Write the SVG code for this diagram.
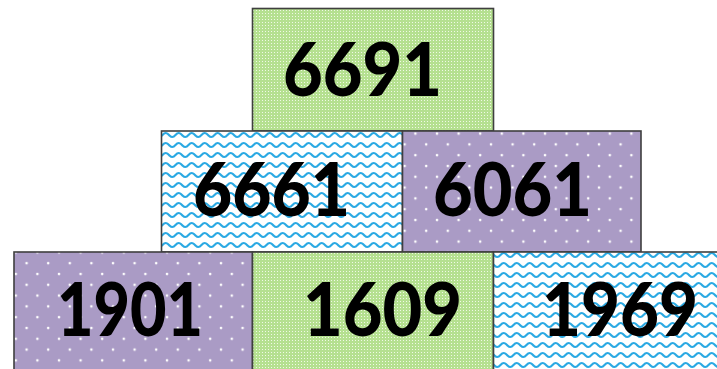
<svg xmlns="http://www.w3.org/2000/svg" width="717" height="369" viewBox="0 0 717 369">
<defs>
<pattern id="green" width="3" height="3" patternUnits="userSpaceOnUse">
<rect width="3" height="3" fill="#b5e090"/>
<rect x="1" y="1" width="1" height="1" fill="#f0f9e6"/>
</pattern>
<pattern id="wave" width="13" height="10" patternUnits="userSpaceOnUse">
<rect width="13" height="10" fill="#ffffff"/>
<path d="M-6.5,5 Q-3.25,1 0,5 T6.5,5 T13,5 T19.5,5" fill="none" stroke="#2aa9e3" stroke-width="2"/>
</pattern>
<pattern id="purple" width="21.6" height="21.6" patternUnits="userSpaceOnUse">
<rect width="21.6" height="21.6" fill="#aa9bc5"/>
<circle cx="5" cy="4" r="1.3" fill="#ffffff"/>
<circle cx="15.8" cy="14.8" r="1.3" fill="#ffffff"/>
</pattern>
</defs>
<style>
.box{stroke:#3f3f3f;stroke-width:1.6}
.num{font-family:Lato,"DejaVu Sans",sans-serif;font-weight:900;font-size:74px;fill:#000;text-anchor:middle}
</style>
<rect width="717" height="369" fill="#ffffff"/>
<g id="n6691">
<rect class="box" x="252.5" y="8.5" width="241" height="122.5" fill="url(#green)"/>
<text class="num" x="362.5" y="96" textLength="159" lengthAdjust="spacingAndGlyphs">6691</text>
</g>
<g id="n6661">
<rect class="box" x="161.5" y="131" width="241" height="121" fill="url(#wave)"/>
<text class="num" x="271.5" y="216" textLength="157" lengthAdjust="spacingAndGlyphs">6661</text>
</g>
<g id="n6061">
<rect class="box" x="402.5" y="131" width="238.5" height="121" fill="url(#purple)"/>
<text class="num" x="512.5" y="216" textLength="159" lengthAdjust="spacingAndGlyphs">6061</text>
</g>
<g id="n1901">
<rect class="box" x="14" y="252" width="238.5" height="125" fill="url(#purple)"/>
<text class="num" x="130" y="336" textLength="146" lengthAdjust="spacingAndGlyphs">1901</text>
</g>
<g id="n1609">
<rect class="box" x="252.5" y="252" width="241" height="125" fill="url(#green)"/>
<text class="num" x="382.5" y="336" textLength="159" lengthAdjust="spacingAndGlyphs">1609</text>
</g>
<g id="n1969">
<rect class="box" x="493.5" y="252" width="240" height="125" fill="url(#wave)"/>
<text class="num" x="620" y="336" textLength="156" lengthAdjust="spacingAndGlyphs">1969</text>
</g>
<g id="connectors"></g>
</svg>
